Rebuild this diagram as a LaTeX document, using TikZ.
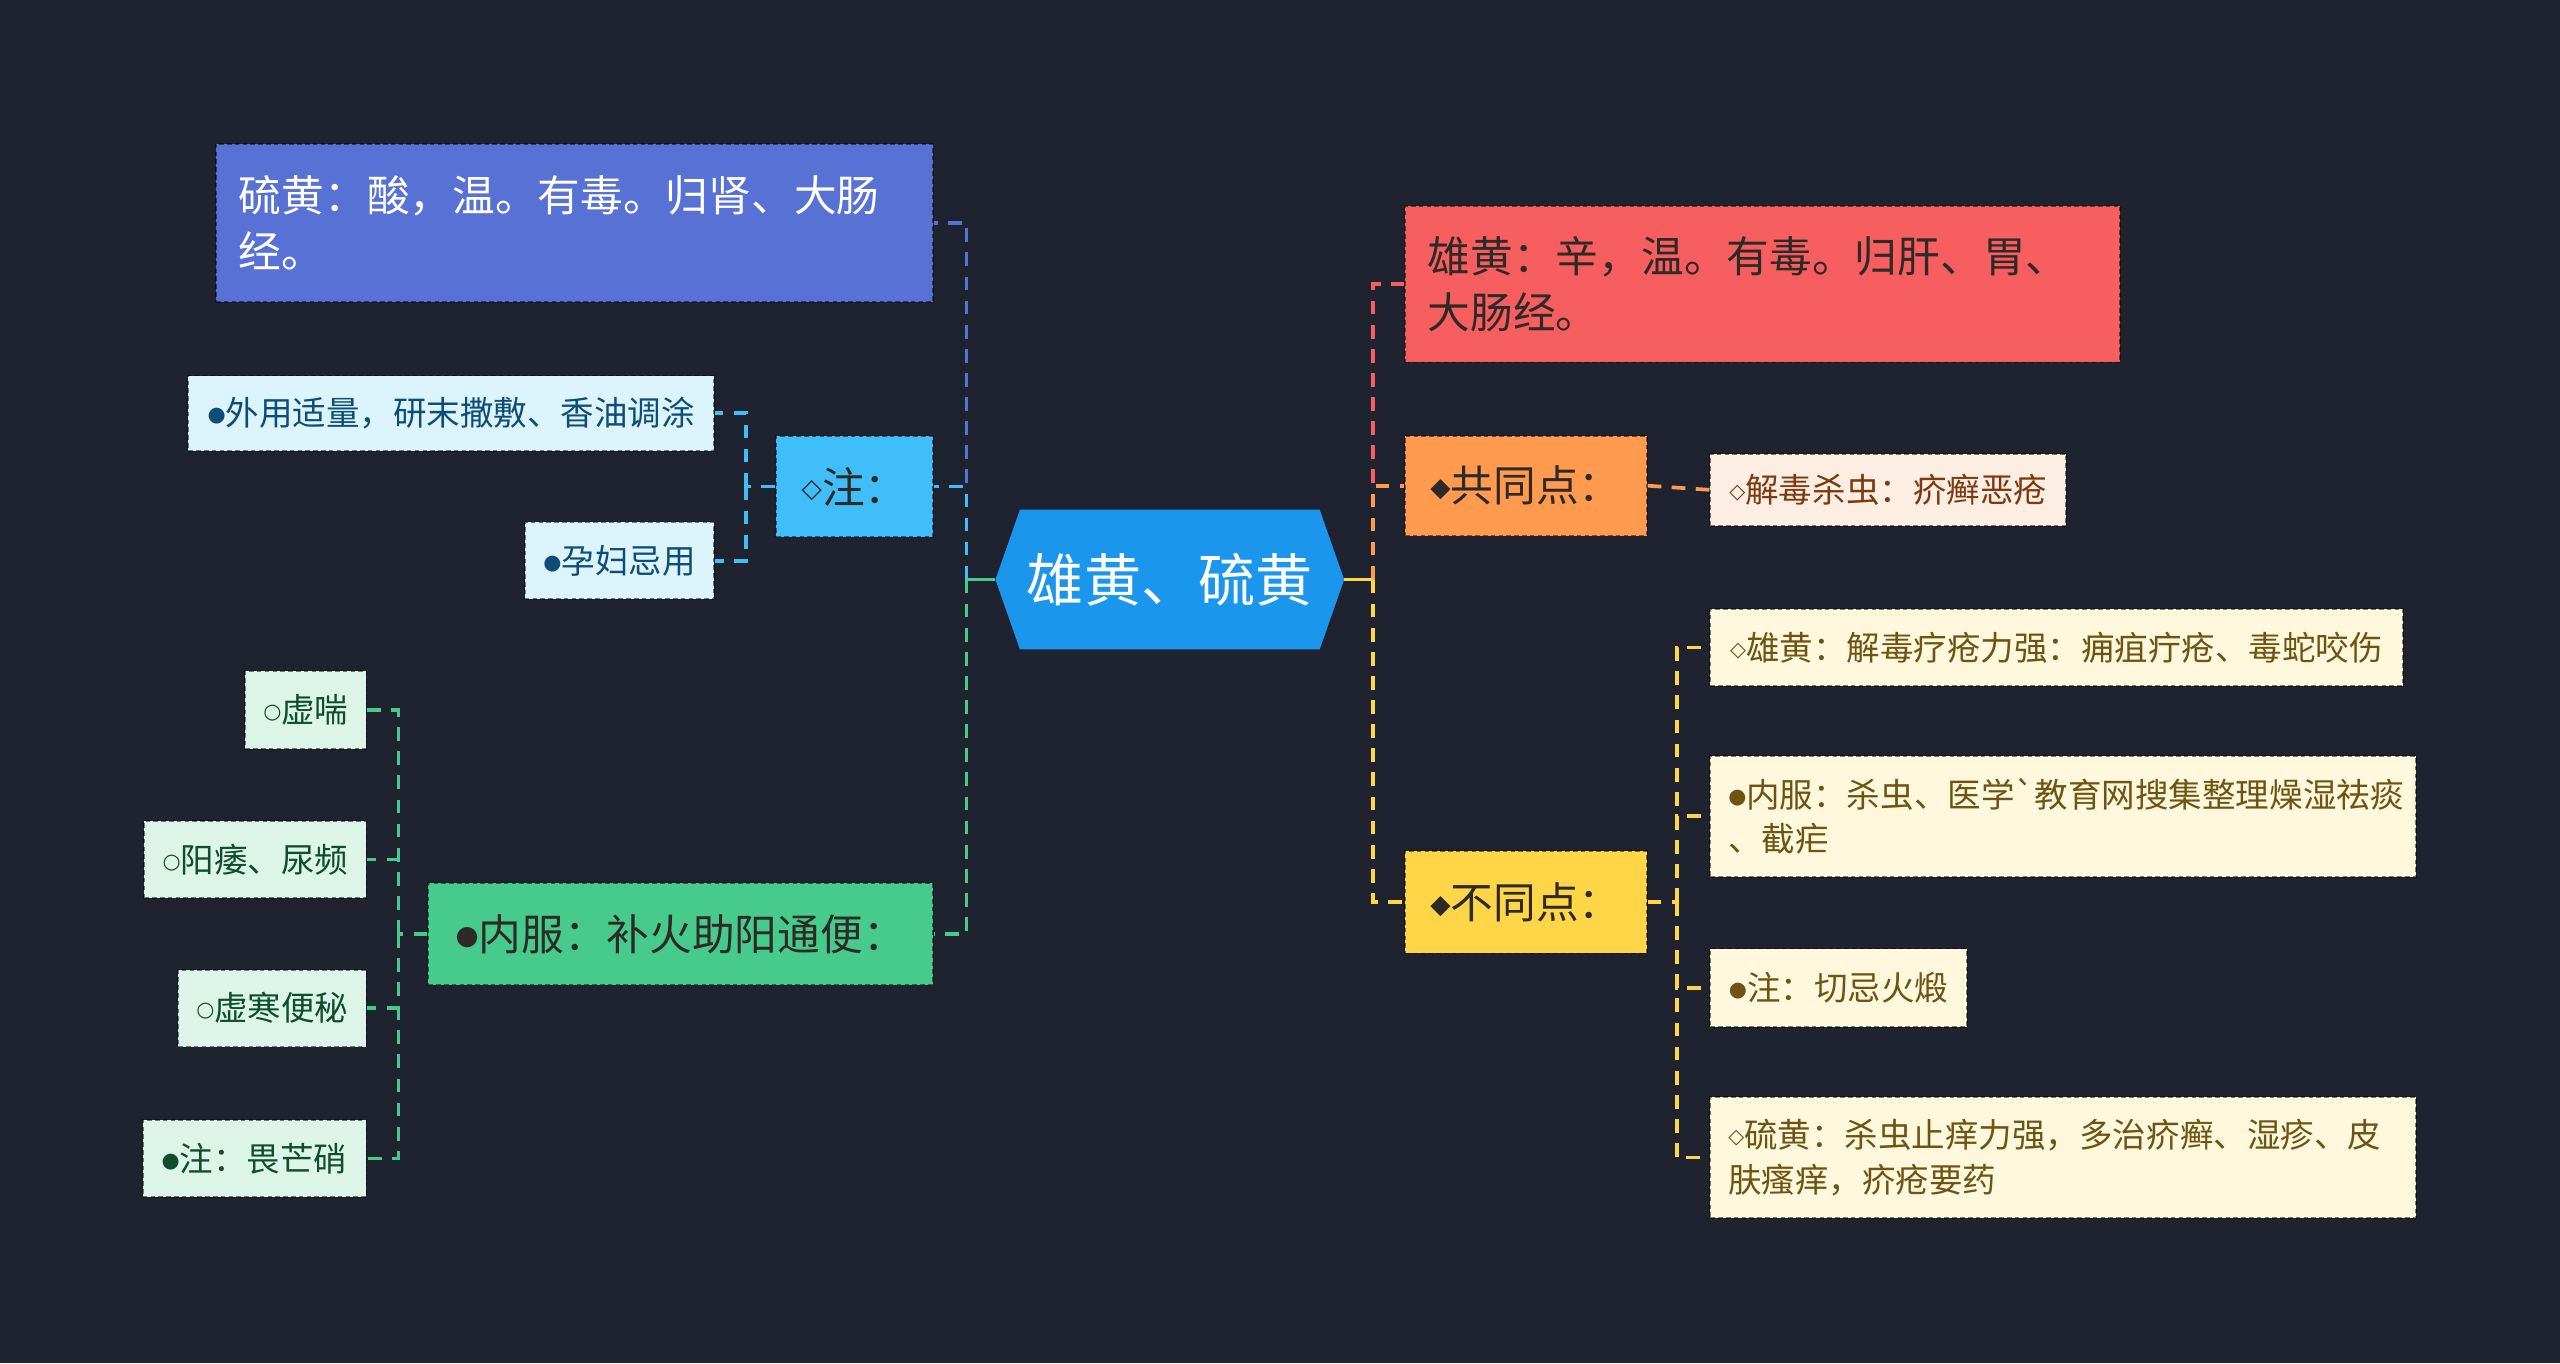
\documentclass[tikz,border=0pt]{standalone}
\usepackage{fontspec}
\setmainfont{Noto Sans CJK SC}
\newfontfamily\symfont{DejaVu Sans}
\usepackage{tikz}
\usetikzlibrary{backgrounds}

\definecolor{bgc}{HTML}{1F2330}
\definecolor{rootc}{HTML}{1A97EC}
\definecolor{liuc}{HTML}{5871D5}
\definecolor{zhuc}{HTML}{3FBEF9}
\definecolor{zhusub}{HTML}{DCF4FC}
\definecolor{zhutext}{HTML}{0D4D77}
\definecolor{neifuc}{HTML}{47CB8C}
\definecolor{neifusub}{HTML}{DDF5E9}
\definecolor{neifutext}{HTML}{0E4E2D}
\definecolor{xiongc}{HTML}{F65E5F}
\definecolor{gongc}{HTML}{FF9A4E}
\definecolor{gongsub}{HTML}{FCEEE3}
\definecolor{gongtext}{HTML}{7B3A10}
\definecolor{butongc}{HTML}{FFD648}
\definecolor{butongsub}{HTML}{FFF8DC}
\definecolor{butongtext}{HTML}{6E5412}
\definecolor{darktext}{HTML}{2E2A28}

\newcommand{\mksym}[1]{\raisebox{0.12em}{\scalebox{0.62}{\symfont #1}}}

\tikzset{
  root/.style   ={text=white, inner sep=0pt, minimum width=5.325cm, minimum height=2.125cm, font=\fontsize{24.9}{30}\selectfont},
  topic/.style  ={rectangle, draw=black, draw opacity=.5, line width=.8pt, dash pattern=on 2pt off 1.4pt, inner xsep=0.35cm, inner ysep=0pt, align=left, font=\fontsize{18.6}{24.2}\selectfont},
  leaf/.style   ={topic, inner xsep=0.275cm, minimum height=1.175cm, font=\fontsize{14.6}{19.2}\selectfont},
  bluetopic/.style ={topic, fill=liuc, text=white},
  cyantopic/.style ={topic, fill=zhuc, text=darktext},
  greentopic/.style={topic, fill=neifuc, text=darktext},
  redtopic/.style  ={topic, fill=xiongc, text=darktext},
  orangetopic/.style={topic, fill=gongc, text=darktext},
  yellowtopic/.style={topic, fill=butongc, text=darktext},
  cyanleaf/.style  ={leaf, fill=zhusub, text=zhutext},
  greenleaf/.style ={leaf, fill=neifusub, text=neifutext},
  orangeleaf/.style={leaf, fill=gongsub, text=gongtext},
  yellowleaf/.style={leaf, fill=butongsub, text=butongtext},
  link/.style   ={line width=1.6pt, dash pattern=on 6pt off 4.5pt},
  stub/.style   ={line width=1.6pt},
}

\begin{document}
\begin{tikzpicture}[x=0.025cm, y=-0.025cm]
  \useasboundingbox (0,0) rectangle (1568,835);

  % centre
  \node[root] (root) at (716.5,355) {雄黄、硫黄};
  \begin{scope}[on background layer]
    \fill[bgc] (0,0) rectangle (1568,835);
    \fill[rootc] (root.west) -- ([xshift=0.375cm]root.north west) -- ([xshift=-0.375cm]root.north east)
      -- (root.east) -- ([xshift=-0.375cm]root.south east) -- ([xshift=0.375cm]root.south west) -- cycle;
  \end{scope}

  % left side
  \node[bluetopic, anchor=east, text width=10.275cm, minimum height=2.425cm] (liu) at (572,136.5)
    {硫黄：酸，温。有毒。归肾、大肠\\经。};
  \node[cyantopic, anchor=east, minimum width=2.4cm, minimum height=1.55cm] (zhu) at (572,298) {\mksym{◇}注：};
  \node[greentopic, anchor=east, minimum width=7.725cm, minimum height=1.55cm] (neifu) at (572,572) {\mksym{●}内服：补火助阳通便：};

  \node[cyanleaf, anchor=east, minimum width=8.05cm, minimum height=1.15cm] (waiyong) at (438,253) {\mksym{●}外用适量，研末撒敷、香油调涂};
  \node[cyanleaf, anchor=east, minimum width=2.9cm] (yunfu) at (438,343.5) {\mksym{●}孕妇忌用};

  \node[greenleaf, anchor=east, minimum width=1.85cm, minimum height=1.2cm] (xuchuan) at (225,435) {\mksym{○}虚喘};
  \node[greenleaf, anchor=east, minimum width=3.4cm] (yangwei) at (225,526.5) {\mksym{○}阳痿、尿频};
  \node[greenleaf, anchor=east, minimum width=2.875cm] (xuhan) at (225,617.5) {\mksym{○}虚寒便秘};
  \node[greenleaf, anchor=east, minimum width=3.425cm] (weimang) at (225,709.5) {\mksym{●}注：畏芒硝};

  % right side
  \node[redtopic, anchor=west, text width=10.25cm, minimum height=2.4cm] (xiong) at (860,174)
    {雄黄：辛，温。有毒。归肝、胃、\\大肠经。};
  \node[orangetopic, anchor=west, minimum width=3.7cm, minimum height=1.525cm] (gong) at (860,297.5) {\mksym{◆}共同点：};
  \node[yellowtopic, anchor=west, minimum width=3.7cm, minimum height=1.575cm] (butong) at (860,552.5) {\mksym{◆}不同点：};

  \node[orangeleaf, anchor=west, minimum width=5.45cm, minimum height=1.1cm] (jiedu) at (1047,300) {\mksym{◇}解毒杀虫：疥癣恶疮};

  \node[yellowleaf, anchor=west, minimum width=10.6cm] (xiongdu) at (1047,396.5) {\mksym{◇}雄黄：解毒疗疮力强：痈疽疔疮、毒蛇咬伤};
  \node[yellowleaf, anchor=west, text width=10.25cm, minimum height=1.85cm] (shachong) at (1047,500)
    {\mksym{●}内服：杀虫、医学\textasciigrave 教育网搜集整理燥湿祛痰\\、截疟};
  \node[yellowleaf, anchor=west, minimum width=3.925cm, minimum height=1.2cm] (qieji) at (1047,605) {\mksym{●}注：切忌火煅};
  \node[yellowleaf, anchor=west, text width=10.25cm, minimum height=1.85cm] (zhiyang) at (1047,709)
    {\mksym{◇}硫黄：杀虫止痒力强，多治疥癣、湿疹、皮\\肤瘙痒，疥疮要药};

  % connectors
  \coordinate (lj) at (592,355);
  \coordinate (rj) at (841,355);
  \coordinate (zj) at (457,298);
  \coordinate (nj) at (244,572);
  \coordinate (bj) at (1027,552.5);

  \draw[link, liuc] (lj) |- (liu.east);
  \draw[link, zhuc] (lj) |- (zhu.east);
  \draw[link, neifuc] (lj) |- (neifu.east);
  \draw[stub, neifuc] (root.west) -- (lj);

  \draw[link, xiongc] (rj) |- (xiong.west);
  \draw[link, gongc] (rj) |- (gong.west);
  \draw[link, butongc] (rj) |- (butong.west);
  \draw[stub, butongc] (root.east) -- (rj);

  \draw[link, zhuc] (zhu.west) -- (zj);
  \draw[link, zhuc] (zj) |- (waiyong.east);
  \draw[link, zhuc] (zj) |- (yunfu.east);

  \draw[link, neifuc] (neifu.west) -- (nj);
  \foreach \n in {xuchuan,yangwei,xuhan,weimang}
    \draw[link, neifuc] (nj) |- (\n.east);

  \draw[link, gongc] (gong.east) -- (jiedu.west);

  \draw[link, butongc] (butong.east) -- (bj);
  \foreach \n in {xiongdu,shachong,qieji,zhiyang}
    \draw[link, butongc] (bj) |- (\n.west);
\end{tikzpicture}
\end{document}
